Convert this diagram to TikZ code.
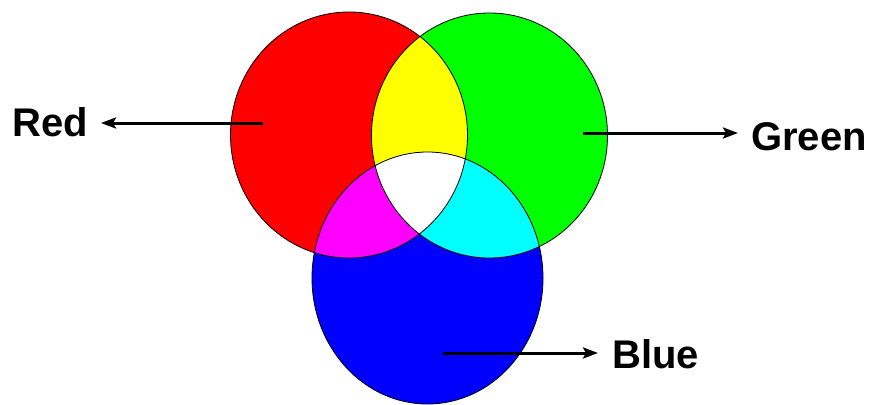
\documentclass[tikz,border=0pt]{standalone}
\usepackage{fontspec}
\setmainfont{Liberation Sans}
\usetikzlibrary{arrows.meta}
\definecolor{pRed}{HTML}{FF0000}
\definecolor{pGreen}{HTML}{00FF00}
\definecolor{pBlue}{HTML}{0000FF}
\definecolor{pYellow}{HTML}{FFFF00}
\definecolor{pMagenta}{HTML}{FF00FF}
\definecolor{pCyan}{HTML}{00FFFF}
\begin{document}
\begin{tikzpicture}[x=1pt,y=-1pt,
  outline/.style={draw=black,line width=0.8pt},
  pointer/.style={line width=3pt,-{Stealth[length=15pt,width=11pt,inset=3pt]}},
  lab/.style={inner sep=0pt,font=\fontsize{40}{42}\selectfont\bfseries}]
\useasboundingbox (0,0) rectangle (874,404);
\def\redpath{(349,135) ellipse [x radius=118.5pt, y radius=123pt]}
\def\greenpath{(489.5,135.5) ellipse [x radius=118pt, y radius=122.5pt]}
\def\bluepath{(427.5,278) ellipse [x radius=115.5pt, y radius=126pt]}
% base fills
\fill[pRed] \redpath;
\fill[pGreen] \greenpath;
\fill[pBlue] \bluepath;
% pairwise overlaps
\begin{scope}\clip \redpath; \fill[pYellow] \greenpath; \fill[pMagenta] \bluepath; \end{scope}
\begin{scope}\clip \greenpath; \fill[pCyan] \bluepath; \end{scope}
\begin{scope}\clip \redpath; \clip \greenpath; \fill[white] \bluepath; \end{scope}
% outlines
\draw[outline] \redpath;
\draw[outline] \greenpath;
\draw[outline] \bluepath;
% labels and arrows
\coordinate (rs) at (263,123);
\coordinate (gs) at (583,133);
\coordinate (bs) at (443,353);
\node[lab,anchor=east] (redlab) at (88,122.5) {Red};
\node[lab,anchor=west] (greenlab) at (751,136.5) {Green};
\node[lab,anchor=west] (bluelab) at (612,354.5) {Blue};
\draw[pointer,shorten >=13pt] (rs) -- (redlab.east |- rs);
\draw[pointer,shorten >=13pt] (gs) -- (greenlab.west |- gs);
\draw[pointer,shorten >=14pt] (bs) -- (bluelab.west |- bs);
\end{tikzpicture}
\end{document}
